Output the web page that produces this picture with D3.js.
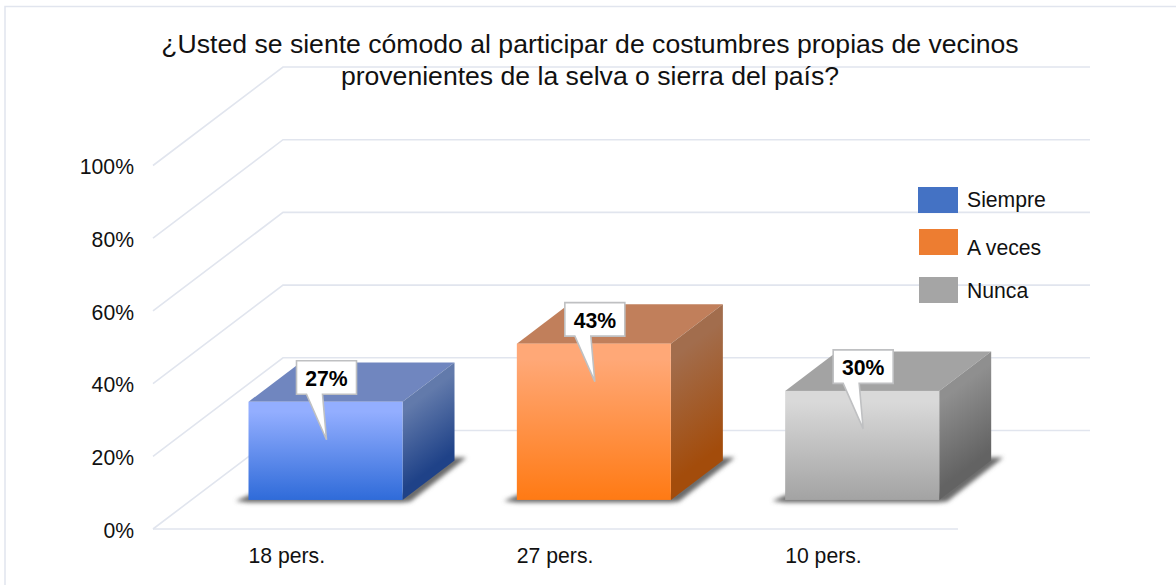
<!DOCTYPE html>
<html>
<head>
<meta charset="utf-8">
<script src="https://cdn.jsdelivr.net/npm/d3@7"></script>
<style>
html, body { margin: 0; padding: 0; background: #fff; }
svg { display: block; font-family: "Liberation Sans", Arial, sans-serif; }
</style>
</head>
<body>
<div class="viz"></div>
<script>
let titleLines = ['¿Usted se siente cómodo al participar de costumbres propias de vecinos', 'provenientes de la selva o sierra del país?'];
let categories = ['18 pers.', '27 pers.', '10 pers.'];
let seriesNames = ['Siempre', 'A veces', 'Nunca'];
let seriesValues = [27, 43, 30];
let yTicks = [0, 20, 40, 60, 80, 100];

let width = 1176, height = 585;
let gridColor = '#e1e5ee';
let textColor = '#111';
let fontSize = 21.2;

// front edge of the floor and how far the back wall sits from it
let floorLeft = 153, floorRight = 958, floorY = 529;
let depthX = 130, depthY = -98.5;
// bars stand part way into the floor
let barStart = 0.295, barDepth = 0.4;

let y = d3.scaleLinear().domain([0, 100]).range([floorY, 165.5]);
let x = d3.scaleBand()
	.domain(categories)
	.range([floorLeft + barStart * depthX, floorRight + barStart * depthX])
	.paddingInner(0.426)
	.paddingOuter(0.213);

let barColors = [
	{top: '#7086bf', faceTop: '#93aeff', faceBottom: '#2f6bd9', sideTop: '#627aab', sideBottom: '#1f4288', legend: '#4472c4'},
	{top: '#c17f5b', faceTop: '#ffa877', faceBottom: '#ff7a14', sideTop: '#a26d4d', sideBottom: '#a34c0b', legend: '#ed7d31'},
	{top: '#a3a3a3', faceTop: '#d9d9d9', faceBottom: '#a3a3a3', sideTop: '#8f8f8f', sideBottom: '#636363', legend: '#a5a5a5'}
];

let svg = d3.select('.viz').append('svg')
	.attr('width', width)
	.attr('height', height);

let defs = svg.append('defs');

defs.append('filter').attr('id', 'soft')
	.attr('x', '-20%').attr('y', '-50%').attr('width', '140%').attr('height', '200%')
	.append('feGaussianBlur').attr('stdDeviation', 2.2);

// outer frame, only left and top show
svg.append('path')
	.attr('d', d3.line()([[5, height], [5, 6.5], [width, 6.5]]))
	.attr('fill', 'none')
	.attr('stroke', gridColor)
	.attr('stroke-width', 1.5);

// gridlines: diagonal on the side wall, then across the back wall
let gridLine = d3.line();
svg.append('g').selectAll('path')
	.data(yTicks)
	.enter().append('path')
	.attr('fill', 'none')
	.attr('stroke', gridColor)
	.attr('stroke-width', 1.6)
	.attr('d', function(d) {
		return gridLine([
			[floorLeft, y(d)],
			[floorLeft + depthX, y(d) + depthY],
			[floorRight + depthX + 2, y(d) + depthY]
		]);
	});

// front edge of the floor
svg.append('line')
	.attr('x1', floorLeft).attr('x2', floorRight)
	.attr('y1', floorY).attr('y2', floorY)
	.attr('stroke', gridColor)
	.attr('stroke-width', 1.6);

// y axis labels
svg.append('g').selectAll('text')
	.data(yTicks)
	.enter().append('text')
	.attr('x', 134)
	.attr('y', function(d) { return y(d) + 8.7; })
	.attr('text-anchor', 'end')
	.attr('font-size', fontSize)
	.attr('fill', textColor)
	.text(function(d) { return d + '%'; });

// category labels
svg.append('g').selectAll('text')
	.data(categories)
	.enter().append('text')
	.attr('x', function(d) { return x(d); })
	.attr('y', 562.5)
	.attr('font-size', fontSize)
	.attr('fill', textColor)
	.text(function(d) { return d; });

// bars
let bars = svg.append('g').selectAll('g')
	.data(seriesValues)
	.enter().append('g');

let barFront = barStart * depthY;
let barDx = barDepth * depthX, barDy = barDepth * depthY;

bars.each(function(d, i) {
	let g = d3.select(this);
	let c = barColors[i];
	let left = x(categories[i]);
	let right = left + x.bandwidth();
	let bottom = y(0) + barFront;
	let top = y(d) + barFront;
	let h = bottom - top;

	function poly(points) { return d3.line()(points) + 'Z'; }

	let face = defs.append('linearGradient').attr('id', 'face' + i)
		.attr('x1', 0).attr('y1', 0).attr('x2', 0).attr('y2', 1);
	face.append('stop').attr('offset', '10%').attr('stop-color', c.faceTop);
	face.append('stop').attr('offset', '100%').attr('stop-color', c.faceBottom);

	// side shading runs across the slant, so lines of equal colour follow the depth
	let side = defs.append('linearGradient').attr('id', 'side' + i)
		.attr('gradientUnits', 'userSpaceOnUse')
		.attr('x1', right).attr('y1', top)
		.attr('x2', right + 0.48 * h).attr('y2', top + 0.64 * h);
	side.append('stop').attr('offset', '10%').attr('stop-color', c.sideTop);
	side.append('stop').attr('offset', '90%').attr('stop-color', c.sideBottom);

	// floor shadow: sliver at the left, line under the face, wedge along the side
	g.append('path')
		.attr('d', poly([
			[left - 13, bottom + 1],
			[left + 3, bottom - 6],
			[right, bottom - 6],
			[right + barDx - 3, bottom + barDy - 3],
			[right + barDx + 12, bottom + barDy - 3],
			[right + 8, bottom + 1.5],
			[right, bottom + 2.5],
			[left, bottom + 2.5]
		]))
		.attr('fill', '#6a6a6a')
		.attr('filter', 'url(#soft)');

	// top
	g.append('path')
		.attr('d', poly([[left, top], [left + barDx, top + barDy], [right + barDx, top + barDy], [right, top]]))
		.attr('fill', c.top);

	// side
	g.append('path')
		.attr('d', poly([[right, top], [right + barDx, top + barDy], [right + barDx, bottom + barDy], [right, bottom]]))
		.attr('fill', 'url(#side' + i + ')');

	// front
	g.append('rect')
		.attr('x', left).attr('y', top)
		.attr('width', x.bandwidth()).attr('height', h)
		.attr('fill', 'url(#face' + i + ')');

	// data label callout
	let boxX = left + 48, boxY = top - 41, boxW = 60, boxH = 33.5;
	g.append('path')
		.attr('d', poly([
			[boxX, boxY], [boxX + boxW, boxY], [boxX + boxW, boxY + boxH],
			[boxX + 26, boxY + boxH], [boxX + 30, boxY + 79], [boxX + 10, boxY + boxH],
			[boxX, boxY + boxH]
		]))
		.attr('fill', '#fff')
		.attr('stroke', '#bfc0c2')
		.attr('stroke-width', 1.6);
	g.append('text')
		.attr('x', boxX + boxW / 2)
		.attr('y', boxY + 25)
		.attr('text-anchor', 'middle')
		.attr('font-size', fontSize)
		.attr('font-weight', 'bold')
		.attr('fill', '#000')
		.text(d + '%');
});

// legend
let legendY = [187, 229, 277];
let legendBoxX = [918, 919, 919];
let legendTextY = [207, 255, 298];
seriesNames.forEach(function(name, i) {
	svg.append('rect')
		.attr('x', legendBoxX[i]).attr('y', legendY[i])
		.attr('width', 958 - legendBoxX[i]).attr('height', 26)
		.attr('fill', barColors[i].legend);
	svg.append('text')
		.attr('x', 967).attr('y', legendTextY[i])
		.attr('font-size', fontSize)
		.attr('fill', textColor)
		.text(name);
});

// title
svg.append('g').selectAll('text')
	.data(titleLines)
	.enter().append('text')
	.attr('x', 590)
	.attr('y', function(d, i) { return 53 + i * 32; })
	.attr('text-anchor', 'middle')
	.attr('font-size', 26.6)
	.attr('fill', textColor)
	.text(function(d) { return d; });
</script>
</body>
</html>
